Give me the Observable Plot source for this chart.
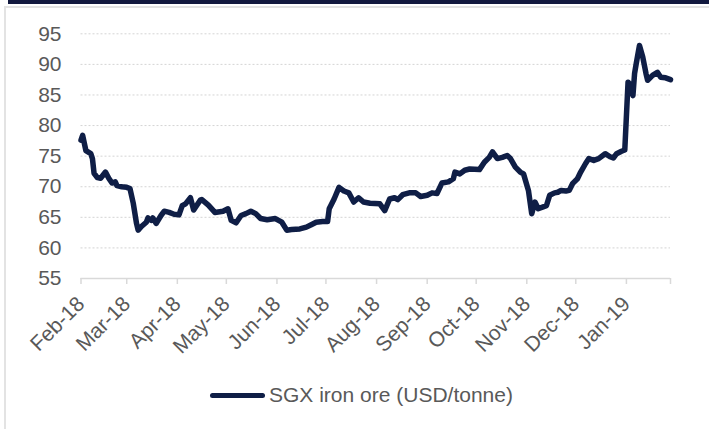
<!DOCTYPE html>
<html>
<head>
<meta charset="utf-8">
<script src="https://cdn.jsdelivr.net/npm/d3@7"></script>
<script src="https://cdn.jsdelivr.net/npm/@observablehq/plot@0.6"></script>
<style>
  html, body { margin: 0; padding: 0; background: #fff; width: 709px; height: 429px; overflow: hidden; }
  #topbar { position: absolute; left: 8px; top: 0; width: 701px; height: 4px; background: #12193f; }
  #frame { position: absolute; left: 4px; top: 6px; width: 760px; height: 480px; border: 2px solid #e3e3e3; box-sizing: border-box; }
  #chart { position: absolute; left: 0; top: 0; }
  #legend { position: absolute; left: 210px; top: 383px; display: flex; align-items: center; font-family: "Liberation Sans", Arial, sans-serif; font-size: 21px; color: #595959; line-height: 24px; }
  #legend .swatch { display: inline-block; width: 55px; height: 5px; border-radius: 3px; background: #0f1e46; margin-right: 4px; }
</style>
</head>
<body>
<div id="topbar"></div>
<div id="frame"></div>
<div id="chart"></div>
<div id="legend"><span class="swatch"></span><span>SGX iron ore (USD/tonne)</span></div>
<script>
const seriesName = "SGX iron ore (USD/tonne)";
const dates = [
  "2018-02-01","2018-02-02","2018-02-04","2018-02-07","2018-02-08","2018-02-09","2018-02-11","2018-02-13","2018-02-16","2018-02-18",
  "2018-02-20","2018-02-22","2018-02-23","2018-02-26","2018-03-01","2018-03-03","2018-03-05","2018-03-07","2018-03-08","2018-03-10",
  "2018-03-13","2018-03-14","2018-03-16","2018-03-17","2018-03-19","2018-03-22","2018-03-24","2018-03-27","2018-03-30","2018-04-02",
  "2018-04-04","2018-04-06","2018-04-09","2018-04-11","2018-04-15","2018-04-16","2018-04-20","2018-04-24","2018-04-29","2018-05-02",
  "2018-05-04","2018-05-07","2018-05-10","2018-05-13","2018-05-16","2018-05-19","2018-05-22","2018-05-26","2018-05-31","2018-06-04",
  "2018-06-07","2018-06-10","2018-06-15","2018-06-19","2018-06-22","2018-06-25","2018-06-29","2018-07-02","2018-07-03","2018-07-06",
  "2018-07-09","2018-07-12","2018-07-15","2018-07-18","2018-07-21","2018-07-24","2018-07-28","2018-08-03","2018-08-06","2018-08-09",
  "2018-08-12","2018-08-14","2018-08-17","2018-08-21","2018-08-25","2018-08-28","2018-09-01","2018-09-04","2018-09-07","2018-09-10",
  "2018-09-14","2018-09-17","2018-09-18","2018-09-21","2018-09-24","2018-09-27","2018-10-03","2018-10-06","2018-10-09","2018-10-11",
  "2018-10-14","2018-10-17","2018-10-20","2018-10-22","2018-10-25","2018-10-28","2018-10-30","2018-11-02","2018-11-04","2018-11-06",
  "2018-11-08","2018-11-11","2018-11-13","2018-11-15","2018-11-18","2018-11-20","2018-11-22","2018-11-25","2018-11-27","2018-11-29",
  "2018-12-02","2018-12-04","2018-12-07","2018-12-09","2018-12-12","2018-12-15","2018-12-19","2018-12-22","2018-12-24","2018-12-26",
  "2018-12-29","2018-12-31","2019-01-02","2019-01-03","2019-01-05","2019-01-06","2019-01-07","2019-01-09","2019-01-11","2019-01-13",
  "2019-01-14","2019-01-17","2019-01-20","2019-01-22","2019-01-25","2019-01-28"
];
const values = [
  77.6,78.4,75.9,75.4,74.6,72.2,71.5,71.4,72.4,71.4,
  70.6,70.8,70.2,70.0,69.9,69.7,67.3,64.0,62.9,63.5,
  64.2,64.9,64.5,64.9,64.0,65.3,66.0,65.8,65.5,65.4,
  66.9,67.2,68.2,66.2,67.8,67.9,67.0,65.8,66.0,66.4,
  64.5,64.1,65.3,65.6,66.0,65.6,64.8,64.6,64.8,64.2,
  62.9,63.0,63.1,63.4,63.8,64.2,64.3,64.3,66.4,68.0,
  69.9,69.3,69.0,67.5,68.2,67.5,67.3,67.2,66.1,68.0,
  68.2,67.9,68.7,69.0,69.0,68.4,68.6,69.0,68.9,70.6,
  70.8,71.3,72.4,72.1,72.7,72.9,72.8,74.0,74.8,75.7,
  74.6,74.8,75.1,74.6,73.2,72.4,72.1,69.4,65.6,67.5,
  66.4,66.7,66.9,68.6,69.0,69.1,69.4,69.3,69.4,70.5,
  71.3,72.4,73.8,74.6,74.3,74.6,75.4,74.9,74.7,75.4,
  75.8,76.0,87.1,86.8,84.9,88.5,90.1,93.1,91.2,88.5,
  87.4,88.2,88.7,87.9,87.8,87.5
];
const yTicks = [55, 60, 65, 70, 75, 80, 85, 90, 95];
const monthTicks = ["2018-02-01","2018-03-01","2018-04-01","2018-05-01","2018-06-01","2018-07-01","2018-08-01","2018-09-01","2018-10-01","2018-11-01","2018-12-01","2019-01-01"];
const xStart = "2018-02-01";
const xEnd = "2019-01-28";

const data = dates.map((d, i) => ({date: new Date(d), value: values[i]}));
const tickDates = monthTicks.map(d => new Date(d));
const endDate = new Date(xEnd);
const fmt = d3.utcFormat("%b-%y");

const chart = Plot.plot({
  width: 709,
  height: 360,
  marginLeft: 80.5,
  marginRight: 39,
  marginTop: 33.3,
  marginBottom: 82,
  style: {fontFamily: "'Liberation Sans', Arial, sans-serif", fontSize: "21px", color: "#595959", background: "transparent"},
  x: {type: "utc", domain: [new Date(xStart), endDate]},
  y: {domain: [55, 95]},
  marks: [
    Plot.ruleY(yTicks.filter(v => v > 55), {stroke: "#d4d4d4", strokeWidth: 1, strokeDasharray: "2,2"}),
    Plot.ruleY([55], {stroke: "#d9d9d9", strokeWidth: 1.5}),
    Plot.axisY({ticks: yTicks, tickSize: 0, tickPadding: 19.5, tickFormat: d => d, fill: "#595959", label: null, fontSize: 21}),
    Plot.axisX({ticks: tickDates.concat([endDate]), tickSize: 6, stroke: "#d9d9d9", strokeWidth: 1.5, tickPadding: 16, tickRotate: -45,
      tickFormat: d => (+d === +endDate ? "" : fmt(d)), fill: "#595959", label: null, fontSize: 21}),
    Plot.line(data, {x: "date", y: "value", stroke: "#0f1e46", strokeWidth: 5.5, strokeLinejoin: "round", strokeLinecap: "round"})
  ]
});
document.getElementById("chart").appendChild(chart);
</script>
</body>
</html>
